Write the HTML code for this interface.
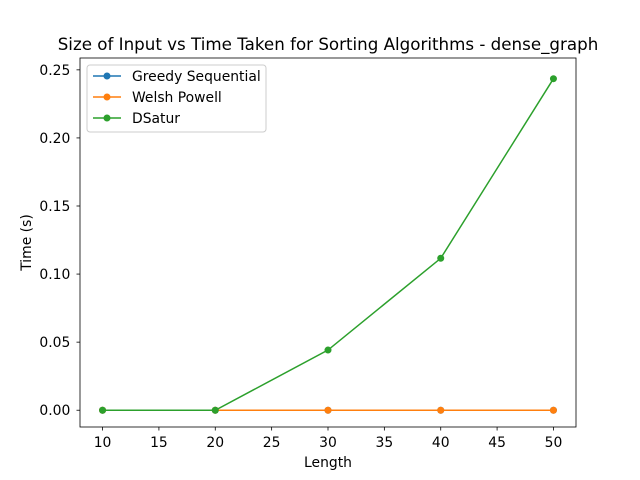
<!DOCTYPE html>
<html><head><meta charset="utf-8"><style>
body{margin:0;background:#fff;}
svg{display:block;font-family:"DejaVu Sans","Liberation Sans",sans-serif;}
</style></head><body>
<svg id="chart" width="640" height="480">
<rect width="640" height="480" fill="#fff"/>
<g id="g"></g>
</svg>
<script>
const lengths=[10,20,30,40,50];
const greedy=[0,0,0,0,0];
const welsh=[0,0,0,0,0];
const dsatur=[0,0,0.0442,0.1116,0.2435];
const xTicks=[10,15,20,25,30,35,40,45,50];
const yTicks=[0,0.05,0.10,0.15,0.20,0.25];
const yTickLabels=["0.00","0.05","0.10","0.15","0.20","0.25"];
const L=80,R=576,T=58,B=427;
const xMin=8,xMax=52,yMin=-0.01232,yMax=0.2587;
const X=v=>L+(v-xMin)/(xMax-xMin)*(R-L);
const Y=v=>B-(v-yMin)/(yMax-yMin)*(B-T);
const NS="http://www.w3.org/2000/svg";
const g=document.getElementById('g');
function mk(tag,attrs,parent){const e=document.createElementNS(NS,tag);for(const k in attrs)e.setAttribute(k,attrs[k]);(parent||g).appendChild(e);return e;}
function txt(s,attrs){const e=mk('text',attrs);e.textContent=s;return e;}
xTicks.forEach(v=>{
 const t=mk('line',{x1:X(v),x2:X(v),y1:B,y2:B+3.5,stroke:'#000','stroke-width':0.8});
 
 
 const l=txt(String(v),{x:X(v),y:B+20,'font-size':13.9,'text-anchor':'middle'});
 
 
});
yTicks.forEach((v,i)=>{
 const t=mk('line',{x1:L-3.5,x2:L,y1:Y(v),y2:Y(v),stroke:'#000','stroke-width':0.8});
 
 
 const l=txt(yTickLabels[i],{x:L-9.7,y:Y(v)+5,'font-size':13.9,'text-anchor':'end'});
 
 
});
function series(vals,color,name){
 const p=mk('polyline',{points:lengths.map((x,i)=>X(x)+','+Y(vals[i])).join(' '),fill:'none',stroke:color,'stroke-width':1.5});
 
 
 lengths.forEach((x,i)=>{
  const c=mk('circle',{cx:X(x),cy:Y(vals[i]),r:3.5,fill:color});
  
  
 });
}
series(greedy,'#1f77b4','greedy-sequential');
series(welsh,'#ff7f0e','welsh-powell');
series(dsatur,'#2ca02c','dsatur');
const frame=mk('rect',{x:L,y:T,width:R-L,height:B-T,fill:'none',stroke:'#000','stroke-width':0.8});


const ti=txt('Size of Input vs Time Taken for Sorting Algorithms - dense_graph',{x:(L+R)/2,y:50,'font-size':16.7,'text-anchor':'middle'});


const xt=txt('Length',{x:(L+R)/2,y:467,'font-size':13.9,'text-anchor':'middle'});


const yt=txt('Time (s)',{x:0,y:0,'font-size':13.9,'text-anchor':'middle',transform:'translate(31,'+((T+B)/2)+') rotate(-90)'});


const lg=mk('rect',{x:87,y:65,width:179,height:67,fill:'#fff',stroke:'#ccc','stroke-width':1,rx:3});


[['Greedy Sequential','#1f77b4'],['Welsh Powell','#ff7f0e'],['DSatur','#2ca02c']].forEach((e,i)=>{
 const y=76+i*21;
 const ln=mk('line',{x1:93,x2:121,y1:y,y2:y,stroke:e[1],'stroke-width':1.5});
 
 
 const c=mk('circle',{cx:107,cy:y,r:3.5,fill:e[1]});
 
 
 const t=txt(e[0],{x:132,y:y+5,'font-size':13.9});
 
 
});
</script>
</body></html>
